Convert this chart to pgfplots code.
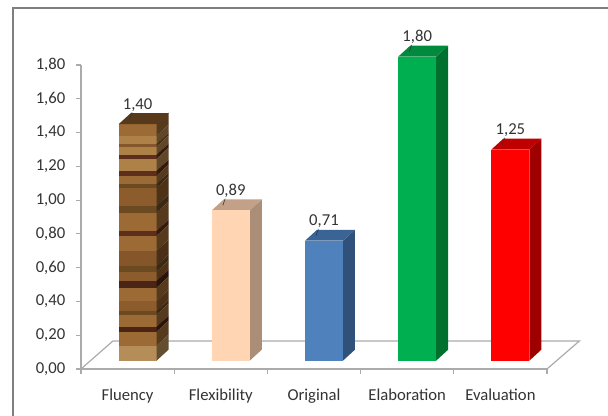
\documentclass[border=0pt]{standalone}
\usepackage{fontspec}
\setmainfont{Carlito}
\usepackage{pgfplots}
\pgfplotsset{compat=1.18}
\definecolor{axisg}{HTML}{ABABAB}
\definecolor{framec}{HTML}{7F7F7F}
\definecolor{txt}{HTML}{333333}
\definecolor{wa}{HTML}{9C6A34}
\definecolor{wb}{HTML}{AD8148}
\definecolor{wc}{HTML}{84562A}
\definecolor{wd}{HTML}{5E2E1C}
\definecolor{we}{HTML}{6B4A22}
\definecolor{wf}{HTML}{4A2414}
\definecolor{wg}{HTML}{8C5C2C}
\definecolor{wh}{HTML}{B58D58}
\definecolor{wtop}{HTML}{58391C}
\definecolor{pf}{RGB}{255,213,179}\definecolor{ps}{RGB}{171,142,120}\definecolor{pt}{RGB}{194,161,136}
\definecolor{bf}{RGB}{79,129,189}\definecolor{bs}{RGB}{48,82,122}\definecolor{bt}{RGB}{58,99,150}
\definecolor{gf}{RGB}{0,176,80}\definecolor{gs}{RGB}{0,112,47}\definecolor{gt}{RGB}{0,138,62}
\definecolor{rf}{RGB}{255,0,0}\definecolor{rs}{RGB}{158,0,0}\definecolor{rt}{RGB}{191,0,0}
\newcommand\wbnd[3]{%
  \fill[#3] (axis cs:0.7964,{(360-#1)/168.9}) rectangle (axis cs:1.2036,{(360-#2)/168.9});
  \fill[#3!55!black] (axis cs:1.2036,{(360-#1)/168.9}) -- (axis cs:1.3322,{(360-#1)/168.9+0.065}) -- (axis cs:1.3322,{(360-#2)/168.9+0.065}) -- (axis cs:1.2036,{(360-#2)/168.9}) -- cycle;
}
\newcommand\leader[2]{\draw[txt,line width=0.4pt] (axis cs:{#1-0.06},{#2+0.07}) -- (axis cs:{#1-0.085},{#2+0.03});}
\pgfplotsset{
  frontbar/.style={ybar,bar width=28.5pt,bar shift=0pt,draw=none,fill=#1,
    nodes near coords,
    nodes near coords align={above},
    every node near coord/.append style={font=\fontsize{12.5}{14}\selectfont,text=txt,yshift=6pt}},
  face/.style={fill=#1,draw=none,forget plot},
}
\begin{document}
\begin{tikzpicture}
\useasboundingbox (0pt,0pt) rectangle (456pt,312pt);
\clip (0pt,0pt) rectangle (456pt,312pt);
\draw[framec,line width=1.1pt] (9.75pt,-4pt) -- (9.75pt,306pt) -- (465pt,306pt);
% ---- axis with the scale and floor
\begin{axis}[
  at={(60.75pt,35.25pt)}, anchor=south west, scale only axis,
  width=349.5pt, height=228pt,
  xmin=0.5, xmax=5.5, ymin=0, ymax=1.8,
  clip=false,
  axis x line=bottom, axis y line=left,
  axis line style={-,axisg,line width=0.9pt},
  xtick={1,2,3,4,5},
  xticklabels={Fluency,Flexibility,Original,Elaboration,Evaluation},
  minor xtick={0.5,1.5,2.5,3.5,4.5,5.5},
  major x tick style={draw=none},
  minor x tick style={axisg,line width=0.9pt},
  minor tick length=3.75pt,
  ytick={0,0.2,0.4,0.6,0.8,1.0,1.2,1.4,1.6,1.8},
  y tick style={axisg,line width=0.9pt},
  major tick length=3.75pt,
  tick align=outside,
  tick label style={font=\fontsize{12.5}{14}\selectfont,text=txt},
  xticklabel style={yshift=-8pt},
  yticklabel style={xshift=-4.5pt},
  /pgf/number format/.cd,fixed,fixed zerofill,precision=2,use comma,assume math mode=true,
]
\addplot[axisg,line width=0.9pt,forget plot] coordinates {(0.5,0)(0.843,0.166)(5.848,0.166)(5.5,0)};
\end{axis}
% ---- bars (the same scale, set back by the depth of the floor)
\begin{axis}[
  at={(68.25pt,41.5pt)}, anchor=south west, scale only axis,
  width=349.5pt, height=228pt,
  xmin=0.5, xmax=5.5, ymin=0, ymax=1.8,
  clip=false, hide axis,
  /pgf/number format/.cd,fixed,fixed zerofill,precision=2,use comma,assume math mode=true,
]
% Fluency
\addplot[frontbar=wa] coordinates {(1,1.40)};
\wbnd{123}{135}{wa}\wbnd{135}{143}{wb}\wbnd{143}{146}{wc}\wbnd{146}{154}{wb}\wbnd{154}{158}{wd}
\wbnd{158}{170}{wb}\wbnd{170}{175}{wd}\wbnd{175}{183}{wa}\wbnd{183}{187}{we}\wbnd{187}{205}{wg}
\wbnd{205}{212}{we}\wbnd{212}{230}{wa}\wbnd{230}{235}{wd}\wbnd{235}{250}{wa}\wbnd{250}{265}{wc}
\wbnd{265}{271}{we}\wbnd{271}{280}{wg}\wbnd{280}{287}{wf}\wbnd{287}{300}{wa}\wbnd{300}{310}{wg}
\wbnd{310}{314}{we}\wbnd{314}{326}{wa}\wbnd{326}{331}{wf}\wbnd{331}{345}{wa}\wbnd{345}{360}{wh}
\addplot[face=wtop] coordinates {(0.7964,1.40)(1.2036,1.40)(1.3322,1.465)(0.925,1.465)} --cycle;
\leader{1}{1.40}
% Flexibility
\addplot[face=ps] coordinates {(2.2036,0)(2.3322,0.065)(2.3322,0.955)(2.2036,0.89)} --cycle;
\addplot[face=pt] coordinates {(1.7964,0.89)(2.2036,0.89)(2.3322,0.955)(1.925,0.955)} --cycle;
\addplot[frontbar=pf] coordinates {(2,0.89)};
\leader{2}{0.89}
% Original
\addplot[face=bs] coordinates {(3.2036,0)(3.3322,0.065)(3.3322,0.775)(3.2036,0.71)} --cycle;
\addplot[face=bt] coordinates {(2.7964,0.71)(3.2036,0.71)(3.3322,0.775)(2.925,0.775)} --cycle;
\addplot[frontbar=bf] coordinates {(3,0.71)};
\leader{3}{0.71}
% Elaboration
\addplot[face=gs] coordinates {(4.2036,0)(4.3322,0.065)(4.3322,1.865)(4.2036,1.80)} --cycle;
\addplot[face=gt] coordinates {(3.7964,1.80)(4.2036,1.80)(4.3322,1.865)(3.925,1.865)} --cycle;
\addplot[frontbar=gf] coordinates {(4,1.80)};
\leader{4}{1.80}
% Evaluation
\addplot[face=rs] coordinates {(5.2036,0)(5.3322,0.065)(5.3322,1.315)(5.2036,1.25)} --cycle;
\addplot[face=rt] coordinates {(4.7964,1.25)(5.2036,1.25)(5.3322,1.315)(4.925,1.315)} --cycle;
\addplot[frontbar=rf] coordinates {(5,1.25)};
\leader{5}{1.25}
\end{axis}
\end{tikzpicture}
\end{document}
